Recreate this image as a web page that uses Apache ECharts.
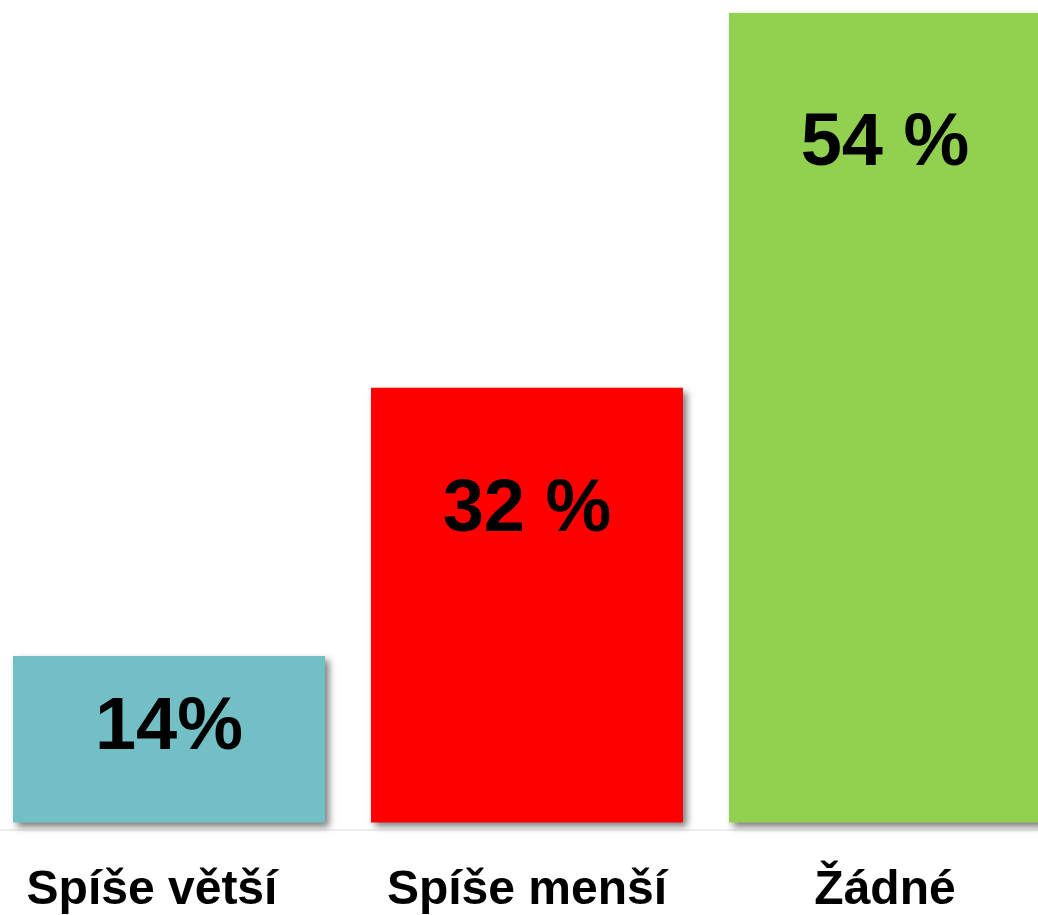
<!DOCTYPE html>
<html>
<head>
<meta charset="utf-8">
<script src="https://cdn.jsdelivr.net/npm/echarts@6/dist/echarts.min.js"></script>
<style>
html,body{margin:0;padding:0;background:#fff;overflow:hidden;width:1038px;height:915px;}
#c{position:absolute;left:-10px;top:0;width:1074px;height:915px;}
</style>
</head>
<body>
<div id="c"></div>
<script>
// Data
const categories = ['Spíše větší', 'Spíše menší', 'Žádné'];
const barValues = [11.1, 29.0, 54];          // bar heights as drawn
const labelTexts = ['14%', '32 %', '54 %'];   // printed value labels
const barColors = ['#72BFC5', '#FF0000', '#92D050'];
const labelOffsets = [72, 123, 132];

const chart = echarts.init(document.getElementById('c'));
chart.setOption({
  animation: false,
  grid: { left: 0, right: 0, top: 13, bottom: 85, containLabel: false },
  xAxis: {
    type: 'category',
    data: categories.map((c, i) => i === 0 ? { value: c, textStyle: { padding: [0, 34, 0, 0] } } : c),
    axisLine: { onZero: false, lineStyle: { color: '#eeeeee', width: 2 } },
    axisTick: { show: false },
    axisLabel: {
      interval: 0, margin: 37,
      fontFamily: 'Liberation Sans, Arial, sans-serif', fontWeight: 'bold',
      fontSize: 48, color: '#000'
    }
  },
  yAxis: {
    type: 'value', min: -0.5, max: 54, show: false,
    splitLine: { show: false }
  },
  series: [{
    type: 'bar',
    barWidth: 312,
    data: barValues.map((v, i) => ({
      value: v,
      itemStyle: {
        color: barColors[i],
        shadowColor: 'rgba(0,0,0,0.5)', shadowBlur: 7, shadowOffsetX: 4, shadowOffsetY: 4
      },
      label: {
        show: true,
        position: ['50%', labelOffsets[i]],
        align: 'center', verticalAlign: 'middle',
        formatter: () => labelTexts[i],
        fontFamily: 'Liberation Sans, Arial, sans-serif', fontWeight: 'bold',
        fontSize: 74, color: '#000'
      }
    }))
  }]
});
</script>
</body>
</html>
